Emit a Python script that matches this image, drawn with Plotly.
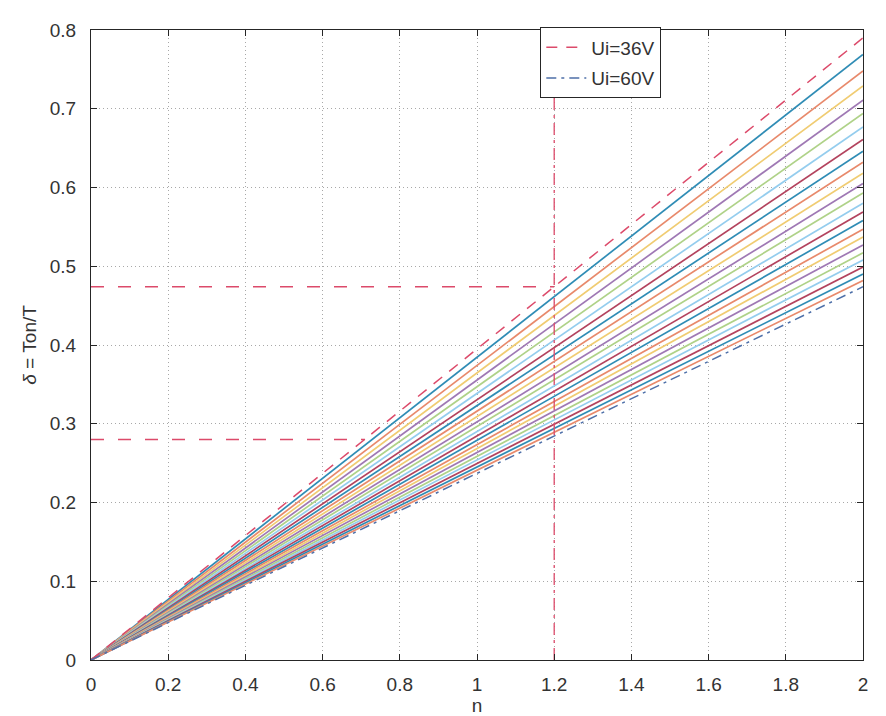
import plotly.graph_objects as go

# n axis end points (lines start at origin)
n_points = [0.0, 2.0]

# Input voltages of the solid family of curves (Ui = 37 ... 59 V)
ui_family = [37, 38, 39, 40, 41, 42, 43, 44, 45, 46, 47, 48, 49, 50, 51, 52,
             53, 54, 55, 56, 57, 58, 59]
# duty cycle read at n = 2 for each curve
delta_end_family = [0.769, 0.748, 0.729, 0.711, 0.694, 0.677, 0.661, 0.646,
                    0.632, 0.618, 0.605, 0.593, 0.580, 0.569, 0.558, 0.547,
                    0.537, 0.527, 0.517, 0.508, 0.499, 0.490, 0.482]

# bounding curves
delta_end_36V = 0.790
delta_end_60V = 0.474

# design marker lines
delta_max_level = 0.474
delta_min_level = 0.280
n_design = 1.2
n_min_cross = 0.71

x_ticks = [0, 0.2, 0.4, 0.6, 0.8, 1.0, 1.2, 1.4, 1.6, 1.8, 2.0]
x_tick_text = ["0", "0.2", "0.4", "0.6", "0.8", "1", "1.2", "1.4", "1.6", "1.8", "2"]
y_ticks = [0, 0.1, 0.2, 0.3, 0.4, 0.5, 0.6, 0.7, 0.8]
y_tick_text = ["0", "0.1", "0.2", "0.3", "0.4", "0.5", "0.6", "0.7", "0.8"]

palette = ["#2f8cb5", "#e8896b", "#f0cc72", "#9f78b4", "#afd288", "#94cdee", "#b3435e"]
red_mark = "#dc4a6a"
blue_mark = "#4d6fa8"
font_family = "Liberation Sans, Arial, Helvetica"

fig = go.Figure()

for i, (ui, d_end) in enumerate(zip(ui_family, delta_end_family)):
    fig.add_trace(go.Scatter(
        x=n_points, y=[0.0, d_end], mode="lines",
        line=dict(color=palette[i % len(palette)], width=1.7),
        showlegend=False, hoverinfo="skip", name=f"Ui={ui}V"))

fig.add_trace(go.Scatter(
    x=n_points, y=[0.0, delta_end_36V], mode="lines", name="Ui=36V",
    legendgroup="a",
    line=dict(color=red_mark, width=1.5, dash="11px,9px")))
fig.add_trace(go.Scatter(
    x=n_points, y=[0.0, delta_end_60V], mode="lines", name="Ui=60V",
    legendgroup="b",
    line=dict(color=blue_mark, width=1.5, dash="10px,5px,3px,5px")))

# design guide lines
fig.add_trace(go.Scatter(
    x=[0.0, n_design], y=[delta_max_level, delta_max_level], mode="lines",
    line=dict(color=red_mark, width=1.5, dash="13px,14px"),
    showlegend=False, hoverinfo="skip"))
fig.add_trace(go.Scatter(
    x=[0.0, n_min_cross], y=[delta_min_level, delta_min_level], mode="lines",
    line=dict(color=red_mark, width=1.5, dash="13px,14px"),
    showlegend=False, hoverinfo="skip"))
fig.add_trace(go.Scatter(
    x=[n_design, n_design], y=[0.0, 0.8], mode="lines",
    line=dict(color=red_mark, width=1.3, dash="12px,5px,3px,5px"),
    showlegend=False, hoverinfo="skip"))

axis_common = dict(
    showline=True, linecolor="#262626", linewidth=1, mirror="allticks",
    ticks="inside", ticklen=6, tickcolor="#262626",
    showgrid=True, gridcolor="#a8a8a8", griddash="1px,3px", gridwidth=1,
    zeroline=False, tickfont=dict(family=font_family, size=19, color="#333333"),
)

fig.update_xaxes(range=[0, 2], tickvals=x_ticks, ticktext=x_tick_text,
                 ticklabelstandoff=7,
                 title=dict(text="n", font=dict(family=font_family, size=19, color="#333333"),
                            standoff=4),
                 **axis_common)
fig.update_yaxes(range=[0, 0.8], tickvals=y_ticks, ticktext=y_tick_text,
                 ticklabelstandoff=10,
                 title=dict(text="<i>δ</i> = Ton/T", font=dict(family=font_family, size=19, color="#333333"),
                            standoff=8),
                 **axis_common)

fig.update_layout(
    width=886, height=716,
    margin=dict(l=83, r=31, t=17, b=64),
    paper_bgcolor="white", plot_bgcolor="white",
    legend=dict(x=0.582, y=1.004, xanchor="left", yanchor="top",
                bgcolor="white", bordercolor="#262626", borderwidth=1,
                font=dict(family=font_family, size=19, color="#333333"),
                tracegroupgap=3, itemwidth=40),
)

fig.write_html("out.html")
